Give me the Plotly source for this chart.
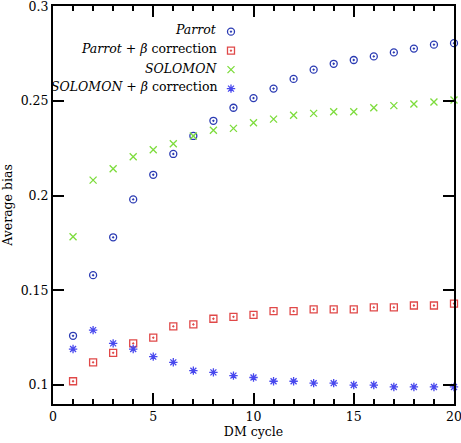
import plotly.graph_objects as go

cycles = list(range(1, 21))
parrot = [0.126, 0.158, 0.178, 0.198, 0.211, 0.222, 0.2315, 0.2395, 0.2464, 0.2515,
          0.2565, 0.2616, 0.2665, 0.2696, 0.2716, 0.2735, 0.2756, 0.2776, 0.2797, 0.2805]
parrot_beta = [0.102, 0.112, 0.117, 0.122, 0.125, 0.131, 0.132, 0.135, 0.136, 0.137,
               0.139, 0.139, 0.140, 0.140, 0.140, 0.141, 0.141, 0.142, 0.142, 0.143]
solomon = [0.1783, 0.2082, 0.2142, 0.2205, 0.2242, 0.2274, 0.2315, 0.2345, 0.2355, 0.2385,
           0.2404, 0.2424, 0.2434, 0.2443, 0.2443, 0.2464, 0.2475, 0.2484, 0.2494, 0.2505]
solomon_beta = [0.119, 0.129, 0.122, 0.119, 0.115, 0.112, 0.1076, 0.1067, 0.105, 0.104,
                0.102, 0.102, 0.101, 0.101, 0.100, 0.100, 0.099, 0.099, 0.099, 0.099]

series_labels = ["<i>Parrot</i>", "<i>Parrot</i> + <i>β</i> correction",
                 "<i>SOLOMON</i>", "<i>SOLOMON</i> + <i>β</i> correction"]
x_tickvals = [0, 5, 10, 15, 20]
x_ticktext = ["0", "5", "10", "15", "20"]
y_tickvals = [0.1, 0.15, 0.2, 0.25, 0.3]
y_ticktext = ["0.1", "0.15", "0.2", "0.25", "0.3"]

FONT = "DejaVu Serif"
FS = 12.5

styles = [
    dict(symbol="circle-open-dot", color="#2b3bb3", size=7),
    dict(symbol="square-open-dot", color="#e04848", size=7),
    dict(symbol="x-thin-open", color="#7ddc3c", size=7),
    dict(symbol="asterisk-open", color="#4848ee", size=7),
]
data = [parrot, parrot_beta, solomon, solomon_beta]

fig = go.Figure()
for vals, st in zip(data, styles):
    fig.add_trace(go.Scatter(
        x=cycles, y=vals, mode="markers", name=" ",
        marker=dict(symbol=st["symbol"], size=st["size"], color=st["color"],
                    line=dict(color=st["color"], width=1.3)),
        cliponaxis=False,
    ))

row_y = [0.9397, 0.892, 0.844, 0.797]
for lbl, yy in zip(series_labels, row_y):
    fig.add_annotation(text=lbl, xref="paper", yref="paper", x=0.414, y=yy,
                       xanchor="right", yanchor="middle", showarrow=False,
                       font=dict(family=FONT, size=FS, color="black"))

fig.update_xaxes(
    range=[0, 20.0001], tickvals=x_tickvals, ticktext=x_ticktext,
    showline=True, linecolor="black", linewidth=2, mirror="ticks",
    ticks="inside", ticklen=11, tickwidth=2, tickcolor="black",
    showgrid=False, zeroline=False, automargin=False, ticklabeloverflow="allow",
    tickfont=dict(family=FONT, size=FS, color="black"),
    minor=dict(dtick=1, ticks="inside", ticklen=5, tickwidth=2, tickcolor="black", showgrid=False),
    title=dict(text="DM cycle", font=dict(family=FONT, size=FS, color="black"), standoff=3),
)
fig.update_yaxes(
    range=[0.09, 0.3001], tickvals=y_tickvals, ticktext=y_ticktext,
    showline=True, linecolor="black", linewidth=2, mirror="ticks",
    ticks="inside", ticklen=11, tickwidth=2, tickcolor="black",
    showgrid=False, zeroline=False, automargin=False, ticklabeloverflow="allow",
    tickfont=dict(family=FONT, size=FS, color="black"),
    title=dict(text="Average bias", font=dict(family=FONT, size=FS, color="black"), standoff=8),
)

fig.update_layout(
    width=461, height=443,
    margin=dict(l=53, r=7, t=6, b=39),
    paper_bgcolor="white", plot_bgcolor="white",
    font=dict(family=FONT, size=FS, color="black"),
    legend=dict(x=0.394, y=0.972, xanchor="left", yanchor="top",
                bgcolor="rgba(0,0,0,0)", font=dict(family=FONT, size=12),
                tracegroupgap=0, itemwidth=30),
    showlegend=True,
)

fig.write_html("out.html", config={"displayModeBar": False},
               post_script="document.body.style.margin='0';")
